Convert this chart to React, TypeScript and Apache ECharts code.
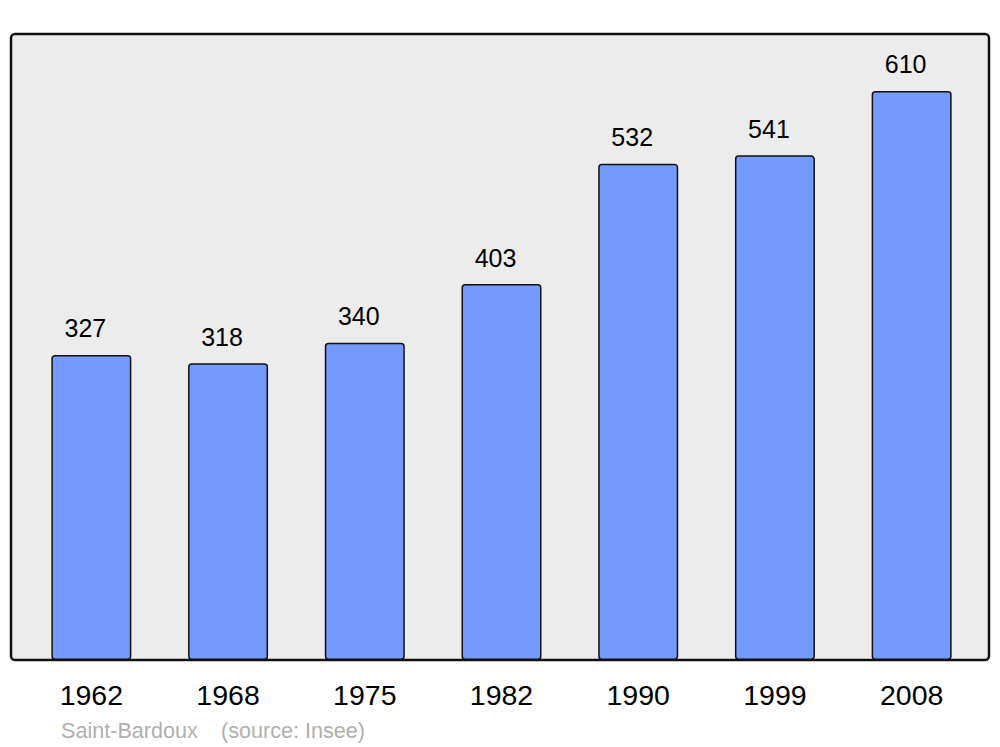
import React, { useEffect, useRef } from "react";
import * as echarts from "echarts";

const years = ["1962", "1968", "1975", "1982", "1990", "1999", "2008"];
const population = [327, 318, 340, 403, 532, 541, 610];
const title = "Saint-Bardoux";
const source = "(source: Insee)";

export default function App() {
  const ref = useRef<HTMLDivElement>(null);
  useEffect(() => {
    if (!ref.current) return;
    const chart = echarts.init(ref.current, null, { renderer: "svg" });
    const font = "'Liberation Sans', Arial, sans-serif";
    chart.setOption({
      animation: false,
      backgroundColor: "#ffffff",
      textStyle: { fontFamily: font },
      grid: { left: 23, right: 20, top: 34, bottom: 87 },
      xAxis: {
        type: "category",
        data: years,
        axisLine: { show: false },
        axisTick: { show: false },
        axisLabel: { fontSize: 28.5, color: "#000", margin: 20, fontFamily: font },
      },
      yAxis: {
        type: "value",
        min: 0,
        max: 671,
        show: false,
        splitLine: { show: false },
      },
      graphic: [
        {
          type: "rect",
          shape: { x: 11, y: 34, width: 978, height: 626, r: 4 },
          style: { fill: "#ececec", stroke: "#111111", lineWidth: 2.5 },
          z: -10,
        },
        {
          type: "text",
          x: 61,
          y: 730,
          style: {
            text: title,
            fontSize: 21.6,
            fill: "#b0b0b0",
            fontFamily: font,
            verticalAlign: "middle",
          },
        },
        {
          type: "text",
          x: 221,
          y: 730,
          style: {
            text: source,
            fontSize: 21.6,
            fill: "#b0b0b0",
            fontFamily: font,
            verticalAlign: "middle",
          },
        },
      ],
      series: [
        {
          type: "bar",
          data: population,
          barWidth: 80,
          itemStyle: {
            color: "#7499ff",
            borderColor: "#111111",
            borderWidth: 1.5,
            borderRadius: 3,
          },
          label: {
            show: true,
            position: "top",
            distance: 14,
            offset: [-6, 0],
            fontSize: 25,
            color: "#000",
            fontFamily: font,
          },
        },
      ],
    });
    return () => chart.dispose();
  }, []);
  return <div ref={ref} style={{ width: 1000, height: 747, position: "absolute", left: 0, top: 0 }} />;
}
